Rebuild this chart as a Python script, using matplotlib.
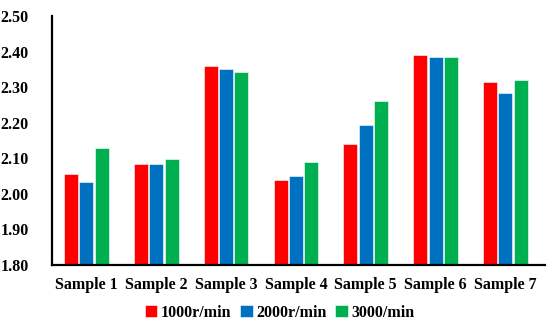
import numpy as np
import matplotlib
matplotlib.use("Agg")
import matplotlib.pyplot as plt

plt.rcParams['font.family'] = ['Liberation Serif', 'DejaVu Serif']
plt.rcParams['font.weight'] = 'bold'

samples = ["Sample 1", "Sample 2", "Sample 3", "Sample 4", "Sample 5", "Sample 6", "Sample 7"]
speed_1000 = [2.055, 2.085, 2.360, 2.040, 2.139, 2.390, 2.315]
speed_2000 = [2.034, 2.085, 2.351, 2.051, 2.194, 2.385, 2.283]
speed_3000 = [2.130, 2.097, 2.342, 2.089, 2.260, 2.385, 2.319]
labels = ["1000r/min", "2000r/min", "3000/min"]
colors = ["#ff0000", "#0070c0", "#00b050"]

fig = plt.figure(figsize=(5.5, 3.27), dpi=100)
ax = fig.add_axes([0.095, 0.19, 0.895, 0.761])

x = np.arange(len(samples))
w = 0.2
for i, (vals, lab, c) in enumerate(zip([speed_1000, speed_2000, speed_3000], labels, colors)):
    ax.bar(x + (i - 1) * 0.22, np.array(vals) - 1.8, w, bottom=1.8, color=c,
           label=lab, edgecolor="white", linewidth=0.4)

ax.set_ylim(1.8, 2.5)
ax.set_xlim(-0.49, 6.56)
ax.set_yticks(np.arange(1.8, 2.51, 0.1))
ax.set_yticklabels([f"{v:.2f}" for v in np.arange(1.8, 2.51, 0.1)])
ax.set_xticks(x)
ax.set_xticklabels(samples)
ax.tick_params(axis="both", length=0, labelsize=11.5)
ax.tick_params(axis="x", pad=9)
ax.tick_params(axis="y", pad=17)
for s in ["top", "right"]:
    ax.spines[s].set_visible(False)
ax.spines["left"].set_linewidth(1.6)
ax.spines["bottom"].set_linewidth(1.6)

fig.legend(loc="lower center", bbox_to_anchor=(0.508, -0.025), ncol=3, frameon=False,
           fontsize=11.5, handlelength=0.8, handleheight=0.8, handletextpad=0.2,
           columnspacing=0.55)

fig.savefig("out.png", dpi=100)
